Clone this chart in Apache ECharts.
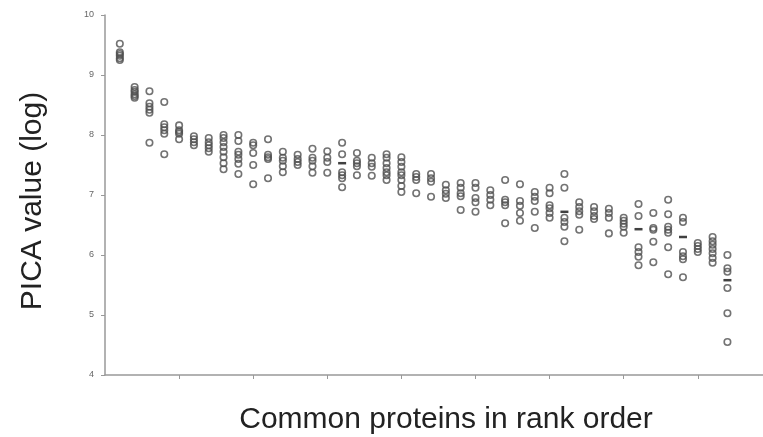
<!DOCTYPE html>
<html><head><meta charset="utf-8">
<script src="https://cdn.jsdelivr.net/npm/echarts@6/dist/echarts.min.js"></script>
<style>html,body{margin:0;padding:0;background:#fff}#c{width:763px;height:437px}</style>
</head><body><div id="c"></div>
<script>
// PICA values (log) for replicate measurements of each protein, in rank order 1..42
const replicates = [
  [9.52, 9.38, 9.35, 9.32, 9.28, 9.25],
  [8.80, 8.75, 8.72, 8.68, 8.65, 8.62],
  [8.73, 8.53, 8.47, 8.42, 8.37, 7.87],
  [8.55, 8.18, 8.13, 8.08, 8.02, 7.68],
  [8.16, 8.08, 8.05, 8.02, 7.93],
  [7.98, 7.93, 7.88, 7.83],
  [7.95, 7.88, 7.83, 7.78, 7.72],
  [8.00, 7.95, 7.88, 7.80, 7.72, 7.63, 7.53, 7.43],
  [8.00, 7.90, 7.72, 7.67, 7.60, 7.52, 7.35],
  [7.87, 7.83, 7.70, 7.50, 7.18],
  [7.93, 7.67, 7.63, 7.60, 7.28],
  [7.72, 7.62, 7.57, 7.48, 7.38],
  [7.67, 7.60, 7.55, 7.50],
  [7.77, 7.62, 7.57, 7.48, 7.37],
  [7.73, 7.62, 7.55, 7.37],
  [7.87, 7.68, 7.38, 7.33, 7.28, 7.13],
  [7.70, 7.57, 7.53, 7.48, 7.33],
  [7.62, 7.53, 7.47, 7.32],
  [7.68, 7.62, 7.53, 7.45, 7.38, 7.33, 7.25],
  [7.63, 7.55, 7.47, 7.38, 7.33, 7.25, 7.15, 7.05],
  [7.35, 7.30, 7.25, 7.03],
  [7.35, 7.28, 7.22, 6.97],
  [7.17, 7.08, 7.02, 6.95],
  [7.20, 7.12, 7.03, 6.98, 6.75],
  [7.20, 7.12, 6.95, 6.88, 6.72],
  [7.08, 7.00, 6.92, 6.83],
  [7.25, 6.92, 6.88, 6.83, 6.53],
  [7.18, 6.90, 6.82, 6.70, 6.57],
  [7.05, 6.97, 6.90, 6.72, 6.45],
  [7.12, 7.03, 6.83, 6.78, 6.70, 6.62],
  [7.35, 7.12, 6.62, 6.55, 6.47, 6.23],
  [6.88, 6.80, 6.73, 6.67, 6.42],
  [6.80, 6.73, 6.65, 6.60],
  [6.77, 6.70, 6.62, 6.36],
  [6.62, 6.57, 6.52, 6.47, 6.37],
  [6.85, 6.65, 6.13, 6.05, 5.97, 5.83],
  [6.70, 6.45, 6.42, 6.22, 5.88],
  [6.92, 6.68, 6.47, 6.42, 6.37, 6.13, 5.68],
  [6.62, 6.55, 6.05, 5.98, 5.93, 5.63],
  [6.20, 6.15, 6.10, 6.05],
  [6.30, 6.23, 6.17, 6.10, 6.03, 5.95, 5.87],
  [6.00, 5.78, 5.72, 5.45, 5.03, 4.55]
];
// visible median dashes: [rank, value]
const medianRanks = [16, 31, 36, 39, 42];
const medianValues = [7.53, 6.72, 6.43, 6.30, 5.58];
const yTicks = [4, 5, 6, 7, 8, 9, 10];
const xTicks = [5, 10, 15, 20, 25, 30, 35, 40];

const points = [];
replicates.forEach((vals, i) => vals.forEach(v => points.push([i + 1, v])));
const medians = medianRanks.map((r, i) => [r, medianValues[i]]);

const chart = echarts.init(document.getElementById('c'), null, {renderer: 'canvas'});
chart.setOption({
  animation: false,
  backgroundColor: '#ffffff',
  grid: {left: 105, right: 0, top: 15, bottom: 62, containLabel: false, outerBoundsMode: 'none'},
  xAxis: {
    type: 'value', min: 0, max: 44.4,
    name: 'Common proteins in rank order', nameLocation: 'middle', nameGap: 30,
    nameTextStyle: {fontFamily: 'Liberation Sans, Arial, sans-serif', fontSize: 30, color: '#222', padding: [0, 0, 0, 24]},
    axisLine: {show: true, lineStyle: {color: '#999', width: 1.5}},
    axisTick: {show: true, inside: false, length: 4, customValues: xTicks, lineStyle: {color: '#999', width: 1}},
    axisLabel: {show: false},
    splitLine: {show: false}
  },
  yAxis: {
    type: 'value', min: 4, max: 10, interval: 1,
    name: 'PICA value (log)', nameLocation: 'middle', nameGap: 57, nameRotate: 90,
    nameTextStyle: {fontFamily: 'Liberation Sans, Arial, sans-serif', fontSize: 30, color: '#222', padding: [0, 12, 0, 0]},
    axisLine: {show: true, lineStyle: {color: '#999', width: 1.5}},
    axisTick: {show: true, inside: false, length: 4, lineStyle: {color: '#999', width: 1}},
    axisLabel: {show: true, margin: 11, fontSize: 9, color: '#666', fontFamily: 'Liberation Sans, Arial, sans-serif',
      customValues: yTicks},
    splitLine: {show: false}
  },
  series: [
    {
      type: 'scatter', data: points, symbol: 'circle', symbolSize: 6.5,
      itemStyle: {color: 'rgba(255,255,255,0)', borderColor: '#505050', borderWidth: 1.6},
      z: 2
    },
    {
      type: 'scatter', data: medians, symbol: 'rect', symbolSize: [8, 2.5],
      itemStyle: {color: '#111'}, z: 3
    }
  ]
});
</script></body></html>
